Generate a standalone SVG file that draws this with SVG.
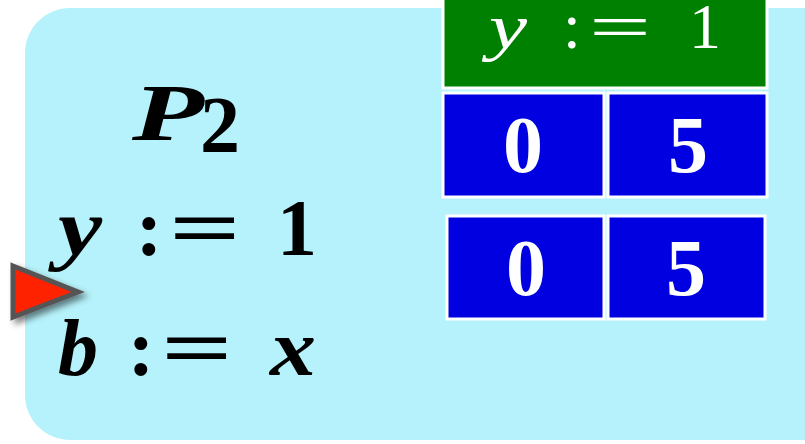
<svg xmlns="http://www.w3.org/2000/svg" width="805" height="444" viewBox="0 0 805 444">
<defs>
<style>
.m{font-family:"Liberation Serif","DejaVu Serif",serif;font-weight:bold;font-size:80px;fill:#000;text-anchor:middle}
.i{font-style:italic}
.h{font-family:"Liberation Serif","DejaVu Serif",serif;font-weight:normal;font-size:64px;fill:#fff;text-anchor:middle}
.cell{fill:#0000e0;stroke:#fff;stroke-width:3}
.num{font-family:"Liberation Serif","DejaVu Serif",serif;font-weight:bold;font-size:80px;fill:#fff;text-anchor:middle}
</style>
<filter id="sh" x="-50%" y="-50%" width="200%" height="200%">
<feGaussianBlur in="SourceAlpha" stdDeviation="3"/>
<feOffset dx="4" dy="4" result="b"/>
<feComponentTransfer><feFuncA type="linear" slope="0.5"/></feComponentTransfer>
<feMerge><feMergeNode/><feMergeNode in="SourceGraphic"/></feMerge>
</filter>
</defs>
<g id="process">
<rect x="25" y="8" width="830" height="432" rx="45" ry="45" fill="#b6f2fb"/>
<text class="m i" x="168" y="140" font-size="88" textLength="72" lengthAdjust="spacingAndGlyphs">P</text>
<text class="m" x="220" y="152" font-size="56">2</text>
<text class="m i" x="80" y="255" textLength="44" lengthAdjust="spacingAndGlyphs">y</text>
<text class="m" x="149" y="255">:</text>
<text class="m" x="205" y="255" textLength="72" lengthAdjust="spacingAndGlyphs">=</text>
<text class="m" x="297" y="255">1</text>
<text class="m i" x="78" y="375">b</text>
<text class="m" x="141" y="375">:</text>
<text class="m" x="197" y="375" textLength="72" lengthAdjust="spacingAndGlyphs">=</text>
<text class="m i" x="293" y="375" textLength="46" lengthAdjust="spacingAndGlyphs">x</text>
</g>
<g id="pointer">
<polygon points="13,266 78,292 13,317" fill="#ff2200" stroke="#555" stroke-width="5" filter="url(#sh)"/>
</g>
<g id="header">
<rect x="443" y="-3" width="324" height="91" fill="#008000" stroke="#fff" stroke-width="3"/>
<text class="h i" x="508" y="48" textLength="38" lengthAdjust="spacingAndGlyphs">y</text>
<text class="h" x="572" y="48">:</text>
<text class="h" x="620" y="48" textLength="62" lengthAdjust="spacingAndGlyphs">=</text>
<text class="h" x="705" y="48">1</text>
</g>
<g id="row1">
<rect class="cell" x="443" y="93" width="161" height="104"/>
<rect class="cell" x="608" y="93" width="159" height="104"/>
<text class="num" x="523" y="172">0</text>
<text class="num" x="688" y="172">5</text>
</g>
<g id="row2">
<rect class="cell" x="447" y="216" width="157" height="103"/>
<rect class="cell" x="608" y="216" width="157" height="103"/>
<text class="num" x="526" y="295">0</text>
<text class="num" x="686" y="295">5</text>
</g>
</svg>
